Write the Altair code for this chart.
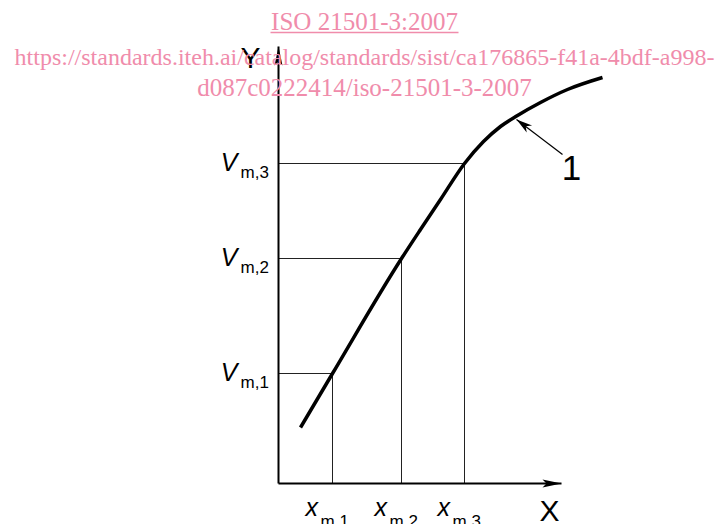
import altair as alt
import pandas as pd

# ---- data (axis units; origin at the axes intersection) ----
curve_x = [2.2, 5.4, 12.3, 14.2, 16.2, 18.6, 20.5, 22.2, 23.9, 26.2, 28.9, 32.4]
curve_y = [5.6, 11.0, 22.5, 25.4, 28.4, 32.0, 34.2, 35.7, 36.8, 38.1, 39.4, 40.6]

xm = [5.4, 12.3, 18.6]
vm = [11.0, 22.5, 32.0]
sub_labels = ["m,1", "m,2", "m,3"]

x_axis_end = 28.3
y_axis_end = 43.7

leader_tail = (28.4, 32.9)
leader_tip = (23.8, 36.4)
leader_label = "1"

wm_lines = ["ISO 21501-3:2007",
            "https://standards.iteh.ai/catalog/standards/sist/ca176865-f41a-4bdf-a998-",
            "d087c0222414/iso-21501-3-2007"]
wm_sizes = [25, 24, 25]
wm_x = 8.6
wm_y = [45.35, 41.85, 38.75]
wm_underline = (-0.8, 18.0, 45.1)

PINK = "#f08cab"
XS = alt.Scale(domain=[-27.05, 43.65], nice=False, zero=False)
YS = alt.Scale(domain=[-4.05, 47.55], nice=False, zero=False)


def X(f):
    return alt.X(f, type="quantitative", scale=XS, axis=None)


def Y(f):
    return alt.Y(f, type="quantitative", scale=YS, axis=None)


guides = pd.DataFrame({"xm": xm, "vm": vm, "zero": [0.0] * 3, "sub": sub_labels})

hguide = alt.Chart(guides).mark_rule(color="#222222", strokeWidth=1).encode(
    x=X("zero"), x2="xm", y=Y("vm"))
vguide = alt.Chart(guides).mark_rule(color="#222222", strokeWidth=1).encode(
    x=X("xm"), y=Y("zero"), y2="vm")

axes_df = pd.DataFrame({"x0": [0.0, 0.0], "x1": [x_axis_end, 0.0],
                        "y0": [0.0, 0.0], "y1": [0.0, y_axis_end]})
axes = alt.Chart(axes_df).mark_rule(color="black", strokeWidth=2).encode(
    x=X("x0"), x2="x1", y=Y("y0"), y2="y1")

xarrow = alt.Chart(pd.DataFrame({"x": [x_axis_end], "y": [0.0]})).mark_point(
    shape="M0,0L-19,-4L-15,0L-19,4Z", size=4, filled=True, color="black",
    opacity=1, strokeWidth=0).encode(x=X("x"), y=Y("y"))
yarrow = alt.Chart(pd.DataFrame({"x": [0.0], "y": [y_axis_end]})).mark_point(
    shape="M0,0L-4,19L0,15L4,19Z", size=4, filled=True, color="black",
    opacity=1, strokeWidth=0).encode(x=X("x"), y=Y("y"))

curve = alt.Chart(pd.DataFrame({"x": curve_x, "y": curve_y})).mark_line(
    color="black", strokeWidth=3.5, interpolate="monotone", strokeCap="butt").encode(
    x=X("x"), y=Y("y"))

leader = alt.Chart(pd.DataFrame({"x0": [leader_tail[0]], "y0": [leader_tail[1]],
                                 "x1": [leader_tip[0]], "y1": [leader_tip[1]]})).mark_rule(
    color="black", strokeWidth=1.2).encode(x=X("x0"), x2="x1", y=Y("y0"), y2="y1")
leader_head = alt.Chart(pd.DataFrame({"x": [leader_tip[0]], "y": [leader_tip[1]]})).mark_point(
    shape="M0,0L15.6,5.9L9.2,6.8L10.2,13.1Z", size=4, filled=True, color="black",
    opacity=1, strokeWidth=0).encode(x=X("x"), y=Y("y"))
leader_txt = alt.Chart(pd.DataFrame({"x": [29.3], "y": [30.4], "t": [leader_label]})).mark_text(
    font="Liberation Sans", fontSize=35, align="center", baseline="alphabetic",
    color="black").encode(x=X("x"), y=Y("y"), text="t:N")

# axis letters
axis_lbl = pd.DataFrame({"x": [-2.8, 27.1], "y": [41.6, -3.7], "t": ["Y", "X"]})
axis_txt = alt.Chart(axis_lbl).mark_text(
    font="Liberation Sans", fontSize=30, align="center", baseline="alphabetic",
    color="black").encode(x=X("x"), y=Y("y"), text="t:N")

# V labels
guides["V"] = "V"
guides["x"] = "x"
v_main = alt.Chart(guides).mark_text(
    font="Liberation Sans", fontSize=25, fontStyle="italic", align="right",
    baseline="alphabetic", dx=-41, dy=7, color="black").encode(
    x=X("zero"), y=Y("vm"), text="V:N")
v_sub = alt.Chart(guides).mark_text(
    font="Liberation Sans", fontSize=17, align="left",
    baseline="alphabetic", dx=-38, dy=14, color="black").encode(
    x=X("zero"), y=Y("vm"), text="sub:N")

x_main = alt.Chart(guides).mark_text(
    font="Liberation Sans", fontSize=25, fontStyle="italic", align="left",
    baseline="alphabetic", dx=-27, dy=32, color="black").encode(
    x=X("xm"), y=Y("zero"), text="x:N")
x_sub = alt.Chart(guides).mark_text(
    font="Liberation Sans", fontSize=17, align="left",
    baseline="alphabetic", dx=-12, dy=43, color="black").encode(
    x=X("xm"), y=Y("zero"), text="sub:N")

# watermark
wm = alt.Chart(pd.DataFrame({"x": [wm_x] * 3, "y": wm_y, "t": wm_lines, "fs": wm_sizes})).mark_text(
    font="Liberation Serif", align="center", baseline="alphabetic",
    color=PINK).encode(x=X("x"), y=Y("y"), text="t:N",
                       size=alt.Size("fs:Q", scale=None, legend=None))
wm_ul = alt.Chart(pd.DataFrame({"x0": [wm_underline[0]], "x1": [wm_underline[1]],
                                "y": [wm_underline[2]]})).mark_rule(
    color=PINK, strokeWidth=1.3).encode(x=X("x0"), x2="x1", y=Y("y"))

chart = alt.layer(
    hguide, vguide, axes, xarrow, yarrow, curve, leader, leader_head, leader_txt,
    axis_txt, v_main, v_sub, x_main, x_sub, wm, wm_ul
).properties(width=707, height=516, padding=0, autosize="none").configure_view(stroke=None)

chart.save("out.html", embed_options={"renderer": "svg", "actions": False})
